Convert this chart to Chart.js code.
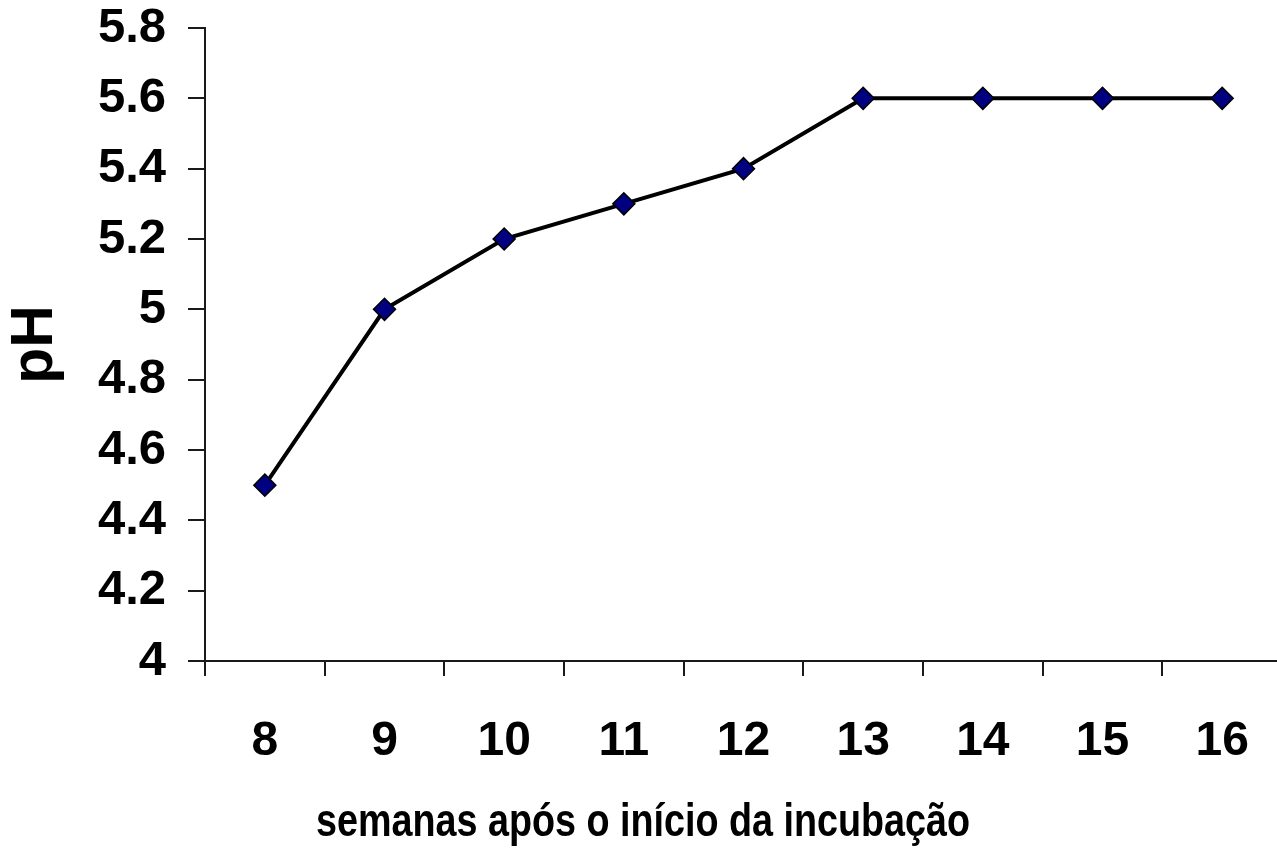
<!DOCTYPE html>
<html>
<head>
<meta charset="utf-8">
<title>pH</title>
<script src="https://cdn.jsdelivr.net/npm/chart.js@4/dist/chart.umd.min.js"></script>
<style>
  html, body { margin: 0; padding: 0; background: #fff; overflow: hidden; }
  #wrap { position: relative; width: 1282px; height: 848px; }
</style>
</head>
<body>
<div id="wrap"><canvas id="c" width="1282" height="848"></canvas></div>
<script>
// weeks after the start of incubation
const weeks = ["8", "9", "10", "11", "12", "13", "14", "15", "16"];
// measured pH
const phValues = [4.5, 5.0, 5.2, 5.3, 5.4, 5.6, 5.6, 5.6, 5.6];
// y axis range
const yMin = 4;
const yMax = 5.8;
const yStep = 0.2;
const xTitle = "semanas após o início da incubação";

const FONT = "'Liberation Sans', Arial, Helvetica, sans-serif";
const AXIS = "#1a1a1a";

// The x title in the original is a narrow bold face, wider page-centred than
// the plot. No narrow Arial here, so squeeze the regular bold horizontally.
const narrowTitle = {
  id: "narrowTitle",
  afterDraw(chart) {
    const { ctx } = chart;
    ctx.save();
    ctx.translate(643, 836);
    ctx.scale(0.82, 1);
    ctx.font = "bold 46px " + FONT;
    ctx.fillStyle = "#000";
    ctx.textAlign = "center";
    ctx.textBaseline = "alphabetic";
    ctx.fillText(xTitle, 0, 0);
    ctx.restore();
  },
};

new Chart(document.getElementById("c"), {
  type: "line",
  data: {
    labels: weeks,
    datasets: [
      {
        label: "pH",
        data: phValues,
        borderColor: "#000",
        borderWidth: 4,
        tension: 0,
        pointStyle: "rectRot",
        pointRadius: 11,
        pointBackgroundColor: "#000080",
        pointBorderColor: "#000",
        pointBorderWidth: 1.5,
      },
    ],
  },
  options: {
    responsive: false,
    animation: false,
    layout: { autoPadding: false, padding: { top: 28, left: 0, right: 0, bottom: 0 } },
    scales: {
      x: {
        offset: true,
        afterFit: (s) => {
          s.height = 187;
          s.paddingLeft = 0;
          s.paddingRight = 0;
        },
        grid: {
          offset: true,
          drawOnChartArea: false,
          tickLength: 15,
          color: AXIS,
          lineWidth: 2,
        },
        border: { color: AXIS, width: 2 },
        ticks: {
          color: "#000",
          padding: 37,
          font: { family: FONT, size: 48, weight: "bold" },
        },
      },
      y: {
        min: yMin,
        max: yMax,
        afterFit: (s) => {
          s.width = 205;
          s.paddingTop = 0;
          s.paddingBottom = 0;
        },
        grid: {
          drawOnChartArea: false,
          tickLength: 17,
          color: AXIS,
          lineWidth: 2,
        },
        border: { color: AXIS, width: 2 },
        ticks: {
          stepSize: yStep,
          color: "#000",
          padding: 22,
          font: { family: FONT, size: 49, weight: "bold" },
          callback: (v) => String(Number(v.toFixed(1))),
        },
        title: {
          display: true,
          text: "pH",
          color: "#000",
          padding: { top: 0, bottom: 0 },
          font: { family: FONT, size: 59, weight: "bold", lineHeight: 1.2 },
        },
      },
    },
    plugins: {
      legend: { display: false },
      tooltip: { enabled: false },
    },
  },
  plugins: [narrowTitle],
});
</script>
</body>
</html>
